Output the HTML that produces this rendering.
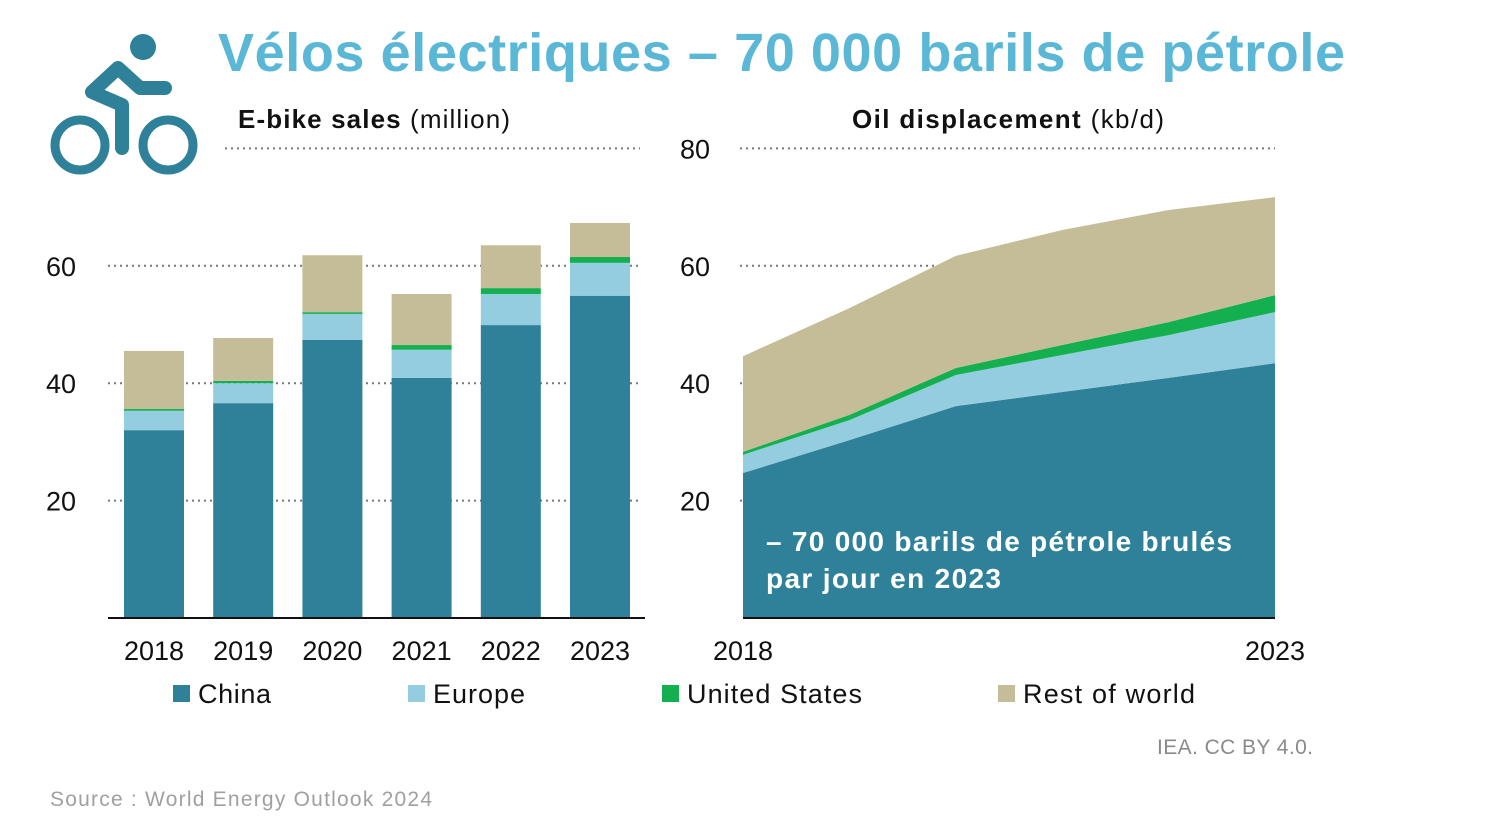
<!DOCTYPE html>
<html><head><meta charset="utf-8"><style>
body{margin:0;background:#fff;width:1488px;height:837px;overflow:hidden;font-family:"Liberation Sans",sans-serif}
</style></head><body>
<svg id="c" width="1488" height="837" style="position:absolute;left:0;top:0">
<g fill="none" stroke="#2f8199" stroke-width="9">
<circle cx="80" cy="145" r="25"/><circle cx="168" cy="145" r="25"/>
<circle cx="143" cy="47" r="13" fill="#2f8199" stroke="none"/>
<path d="M122 148 L122 105 L92 92 L118 68 L140 88 L165 88" stroke-linecap="round" stroke-linejoin="round" stroke-width="14"/>
</g>
<text x="218" y="71" font-size="54" font-weight="bold" fill="#5ab7d6" textLength="1127" lengthAdjust="spacing">Vélos électriques – 70 000 barils de pétrole</text>
<text x="238" y="128" font-size="26" fill="#111" textLength="272" lengthAdjust="spacing"><tspan font-weight="bold">E-bike sales</tspan> (million)</text>
<text x="852" y="128" font-size="26" fill="#111" textLength="312" lengthAdjust="spacing"><tspan font-weight="bold">Oil displacement</tspan> (kb/d)</text>
<g id="grid"></g><g id="left"></g><g id="right"></g>
<text x="766" y="551" font-size="28" font-weight="bold" fill="#fff" textLength="466" lengthAdjust="spacing">– 70 000 barils de pétrole brulés</text>
<text x="766" y="588" font-size="28" font-weight="bold" fill="#fff" textLength="235" lengthAdjust="spacing">par jour en 2023</text>
<g id="legend"></g>
<text x="1157" y="754" font-size="21" fill="#8a8a8a" textLength="156" lengthAdjust="spacing">IEA. CC BY 4.0.</text>
<text x="50" y="806" font-size="21" fill="#a0a0a0" textLength="382" lengthAdjust="spacing">Source : World Energy Outlook 2024</text>
</svg>
<script>
const years=["2018","2019","2020","2021","2022","2023"];
const yTicks=[20,40,60,80];
const barChina=[32.0,36.6,47.4,40.9,49.9,54.9];
const barEurope=[3.3,3.4,4.4,4.8,5.3,5.6];
const barUS=[0.3,0.4,0.3,0.8,1.0,1.0];
const barRow=[9.9,7.3,9.7,8.7,7.3,5.8];
const oilChina=[24.7,30.3,36.1,38.5,40.9,43.4];
const oilEurope=[3.1,3.4,5.3,6.3,7.3,8.7];
const oilUS=[0.5,0.9,1.2,1.7,2.2,2.9];
const oilRow=[16.3,18.2,19.1,19.6,19.1,16.7];
const seriesNames=["China","Europe","United States","Rest of world"];
const colors=["#2f8199","#94cde0","#14b050","#c5bd98"];
const NS="http://www.w3.org/2000/svg";
function y(v){return 618-v*5.87;}
function xb(i){return 154+i*89.2;}
function xa(i){return 743+i*106.4;}
function mk(p,tag,at){const e=document.createElementNS(NS,tag);for(const k in at)e.setAttribute(k,at[k]);p.appendChild(e);return e;}
const G=document.getElementById('grid'),L=document.getElementById('left'),R=document.getElementById('right'),LG=document.getElementById('legend');
yTicks.forEach(t=>{
  const l1=mk(G,'line',{x1:t==80?225:108,x2:640,y1:y(t),y2:y(t),stroke:'#777','stroke-width':2,'stroke-dasharray':'2 4'});
  
  
  const l2=mk(G,'line',{x1:740,x2:1275,y1:y(t),y2:y(t),stroke:'#777','stroke-width':2,'stroke-dasharray':'2 4'});
  
  
  if(t<80){const a=mk(G,'text',{x:46,y:y(t)+10,'font-size':27,fill:'#111'});a.textContent=t;
  
  }
  const b=mk(G,'text',{x:680,y:y(t)+10,'font-size':27,fill:'#111'});b.textContent=t;
  
  
});
const bars=[barChina,barEurope,barUS,barRow];
years.forEach((yr,i)=>{
  let base=0;
  bars.forEach((s,k)=>{
    const r=mk(L,'rect',{x:xb(i)-30,width:60,y:y(base+s[i]),height:s[i]*5.87,fill:colors[k]});
    
    
    base+=s[i];
  });
  const t=mk(L,'text',{x:xb(i),y:660,'font-size':27,fill:'#111','text-anchor':'middle'});t.textContent=yr;
  
  
});
const bl=mk(L,'line',{x1:108,x2:645,y1:618,y2:618,stroke:'#111','stroke-width':2});


const oil=[oilChina,oilEurope,oilUS,oilRow];
let cum=years.map(()=>0);
oil.forEach((s,k)=>{
  const lo=cum.slice();cum=cum.map((c,i)=>c+s[i]);
  let d='';years.forEach((_,i)=>{d+=(i?'L':'M')+xa(i)+' '+y(cum[i]);});
  for(let i=years.length-1;i>=0;i--)d+='L'+xa(i)+' '+y(lo[i]);
  const p=mk(R,'path',{d:d+'Z',fill:colors[k]});
  
  
});
[0,5].forEach(i=>{const t=mk(R,'text',{x:xa(i),y:660,'font-size':27,fill:'#111','text-anchor':'middle'});t.textContent=years[i];
  
  });
const br=mk(R,'line',{x1:743,x2:1275,y1:618,y2:618,stroke:'#111','stroke-width':2});


const lx=[173,408,662,998];
const lw=[73,92,175,172];
seriesNames.forEach((n,k)=>{
  const g=mk(LG,'g',{});
  
  
  mk(g,'rect',{x:lx[k],y:685,width:17,height:17,fill:colors[k]});
  const t=mk(g,'text',{x:lx[k]+25,y:703,'font-size':27,fill:'#111',textLength:lw[k],lengthAdjust:'spacing'});t.textContent=n;
});
</script>
</body></html>
